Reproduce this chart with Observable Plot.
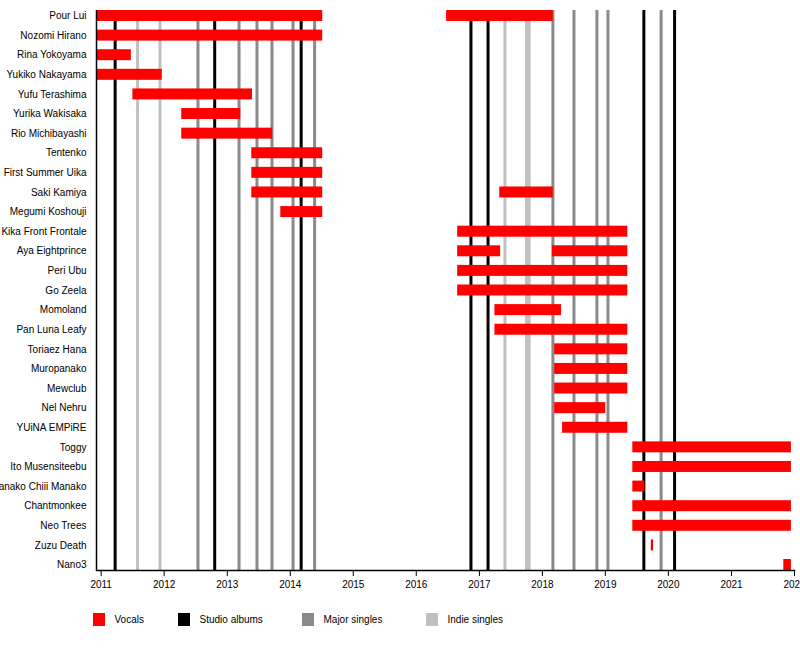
<!DOCTYPE html>
<html>
<head>
<meta charset="utf-8">
<script src="https://cdn.jsdelivr.net/npm/d3@7"></script>
<script src="https://cdn.jsdelivr.net/npm/@observablehq/plot@0.6"></script>
<style>
  html, body { margin: 0; padding: 0; background: #fff; overflow: hidden; }
  body { font-family: "Liberation Sans", Arial, sans-serif; }
  #wrap { position: relative; width: 800px; height: 665px; }
  .item { position: absolute; top: 613px; display: flex; align-items: center; font-size: 10px; color: #000; }
  .sw { width: 12px; height: 13px; margin-right: 9.5px; }
</style>
</head>
<body>
<div id="wrap"></div>
<script>
// Row categories (top to bottom)
const members = [
  "Pour Lui", "Nozomi Hirano", "Rina Yokoyama", "Yukiko Nakayama", "Yufu Terashima",
  "Yurika Wakisaka", "Rio Michibayashi", "Tentenko", "First Summer Uika", "Saki Kamiya",
  "Megumi Koshouji", "Kika Front Frontale", "Aya Eightprince", "Peri Ubu", "Go Zeela",
  "Momoland", "Pan Luna Leafy", "Toriaez Hana", "Muropanako", "Mewclub", "Nel Nehru",
  "YUiNA EMPiRE", "Toggy", "Ito Musensiteebu", "Manako Chiii Manako", "Chantmonkee",
  "Neo Trees", "Zuzu Death", "Nano3"
];

// Vocal stints
const stintMember = [
  "Pour Lui", "Pour Lui", "Nozomi Hirano", "Rina Yokoyama", "Yukiko Nakayama", "Yufu Terashima",
  "Yurika Wakisaka", "Rio Michibayashi", "Tentenko", "First Summer Uika", "Saki Kamiya", "Saki Kamiya",
  "Megumi Koshouji", "Kika Front Frontale", "Aya Eightprince", "Aya Eightprince", "Peri Ubu", "Go Zeela",
  "Momoland", "Pan Luna Leafy", "Toriaez Hana", "Muropanako", "Mewclub", "Nel Nehru",
  "YUiNA EMPiRE", "Toggy", "Ito Musensiteebu", "Manako Chiii Manako", "Chantmonkee",
  "Neo Trees", "Zuzu Death", "Nano3"
];
const stintStart = [
  "2010-12-05", "2016-06-25", "2010-12-05", "2010-12-05", "2010-12-05", "2011-07-04",
  "2012-04-12", "2012-04-12", "2013-05-23", "2013-05-23", "2013-05-23", "2017-04-29",
  "2013-11-07", "2016-08-28", "2016-08-28", "2018-02-28", "2016-08-28", "2016-08-28",
  "2017-04-01", "2017-04-01", "2018-03-13", "2018-03-13", "2018-03-13", "2018-03-13",
  "2018-04-28", "2019-06-09", "2019-06-09", "2019-06-09", "2019-06-09",
  "2019-06-09", "2019-09-24", "2021-10-31"
];
const stintEnd = [
  "2014-07-08", "2018-03-05", "2014-07-08", "2011-06-25", "2011-12-21", "2013-05-27",
  "2013-03-20", "2013-09-21", "2014-07-08", "2014-07-08", "2014-07-08", "2018-03-05",
  "2014-07-08", "2019-05-11", "2017-05-04", "2019-05-11", "2019-05-11", "2019-05-11",
  "2018-04-22", "2019-05-11", "2019-05-11", "2019-05-11", "2019-05-11", "2019-01-03",
  "2019-05-11", "2021-12-14", "2021-12-14", "2019-08-18", "2021-12-14",
  "2021-12-14", "2019-10-07", "2021-12-14"
];

// Release dates
const studioAlbums = ["2011-03-23", "2012-10-20", "2014-03-05", "2016-11-13", "2017-02-20", "2019-08-12", "2020-02-06"];
const majorSingles = ["2012-07-15", "2013-03-10", "2013-06-22", "2013-09-17", "2014-01-17", "2014-05-22",
                      "2018-03-03", "2018-07-03", "2018-11-13", "2019-01-16", "2019-11-20"];
const indieSingles = ["2011-07-31", "2011-12-08", "2017-05-29", "2017-10-01", "2017-10-16"];

// Period and legend
const periodStart = "2010-12-05";
const periodEnd = "2022-01-01";
const legendLabels = ["Vocals", "Studio albums", "Major singles", "Indie singles"];
const legendColors = ["#ff0000", "#000000", "#8a8a8a", "#c0c0c0"];

const rowIndex = new Map(members.map((m, i) => [m, i]));
const stints = stintMember.map((m, i) => ({member: m, start: new Date(stintStart[i]), end: new Date(stintEnd[i])}));
const releases = [
  ...studioAlbums.map(d => ({date: new Date(d), kind: "Studio albums"})),
  ...majorSingles.map(d => ({date: new Date(d), kind: "Major singles"})),
  ...indieSingles.map(d => ({date: new Date(d), kind: "Indie singles"}))
];
const colorOf = Object.fromEntries(legendLabels.map((l, i) => [l, legendColors[i]]));

// bar thickness as a fraction of the row step
const half = 0.28;

const chart = Plot.plot({
  width: 800,
  height: 600,
  marginTop: 10,
  marginBottom: 30,
  marginLeft: 96,
  marginRight: 6,
  style: {fontFamily: "Liberation Sans, Arial, sans-serif", fontSize: "10px", color: "#000", background: "#fff"},
  x: {
    type: "utc",
    domain: [new Date(periodStart), new Date(periodEnd)],
    label: null
  },
  y: {
    type: "linear",
    domain: [-half, members.length - 1 + half],
    reverse: true,
    axis: null,
    label: null
  },
  marks: [
    Plot.ruleX(releases, {x: "date", stroke: d => colorOf[d.kind], strokeWidth: 3}),
    Plot.rect(stints, {
      x1: "start", x2: "end",
      y1: d => rowIndex.get(d.member) - half,
      y2: d => rowIndex.get(d.member) + half,
      fill: colorOf["Vocals"]
    }),
    Plot.axisY(d3.range(members.length), {tickFormat: i => members[i], tickSize: 0, tickPadding: 10, label: null}),
    Plot.axisX({ticks: d3.utcYear.every(1), tickFormat: d3.utcFormat("%Y"), tickSize: 6, tickPadding: 4, label: null}),
    Plot.ruleX([new Date(periodStart)], {stroke: "#000", strokeWidth: 1.5}),
    Plot.frame({anchor: "bottom", stroke: "#000", strokeWidth: 1.5})
  ]
});

const wrap = document.getElementById("wrap");
wrap.appendChild(chart);

const legendLeft = [93, 178, 302, 426];
legendLabels.forEach((l, i) => {
  const it = document.createElement("div");
  it.className = "item";
  it.style.left = legendLeft[i] + "px";
  const sw = document.createElement("div");
  sw.className = "sw";
  sw.style.background = legendColors[i];
  const tx = document.createElement("span");
  tx.textContent = l;
  it.appendChild(sw);
  it.appendChild(tx);
  wrap.appendChild(it);
});
</script>
</body>
</html>
